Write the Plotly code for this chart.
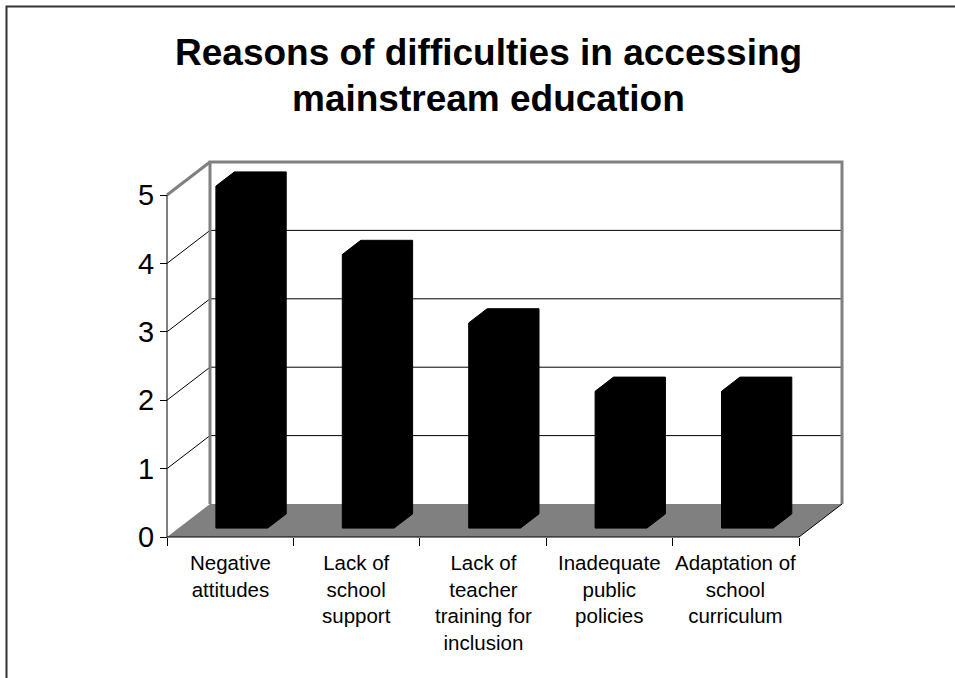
import plotly.graph_objects as go

# ---- data -------------------------------------------------------------
categories = [
    "Negative<br>attitudes",
    "Lack of<br>school<br>support",
    "Lack of<br>teacher<br>training for<br>inclusion",
    "Inadequate<br>public<br>policies",
    "Adaptation of<br>school<br>curriculum",
]
values = [5, 4, 3, 2, 2]
y_ticks = [0, 1, 2, 3, 4, 5]
title_lines = ["Reasons of difficulties in accessing", "mainstream education"]

# ---- layout constants (pixels) ----------------------------------------
W, H = 955, 678
X0_PX, XU = 167, 126.4      # pixel of x=0 and pixels per category
Y0_PX, YU = 537, 68.4       # pixel of y=0 and pixels per unit value
DEPTH_X_PX, DEPTH_Y_PX = 43, 33   # oblique offset of the back wall
PL, PR, PT, PB = 150, 860, 150, 552   # plot area box in pixels

DX = DEPTH_X_PX / XU
DY = DEPTH_Y_PX / YU
n = len(categories)
ymax = max(y_ticks)

BAR_HALF = 0.205           # half width of a bar in category units
D_FRONT, D_BACK = 0.27, 0.70   # bar depth as fraction of the box depth

FONT = "Arial, Liberation Sans, sans-serif"
GRAY = "#808080"


def paper_x(px):
    return (px - PL) / (PR - PL)


def paper_y(py):
    return (PB - py) / (PB - PT)


fig = go.Figure()
shapes = []

# back wall grid lines and side wall grid lines
for v in y_ticks[1:-1]:
    shapes.append(dict(type="line", xref="x", yref="y", x0=DX, y0=v + DY,
                       x1=n + DX, y1=v + DY, line=dict(color="black", width=1),
                       layer="below"))
    shapes.append(dict(type="line", xref="x", yref="y", x0=0, y0=v,
                       x1=DX, y1=v + DY, line=dict(color="black", width=1),
                       layer="below"))

# wall outlines
shapes.append(dict(type="path", xref="x", yref="y",
                   path=f"M {DX},{DY} L {DX},{ymax + DY} L {n + DX},{ymax + DY} L {n + DX},{DY}",
                   line=dict(color=GRAY, width=3), layer="below"))
shapes.append(dict(type="line", xref="x", yref="y", x0=0, y0=ymax,
                   x1=DX, y1=ymax + DY, line=dict(color=GRAY, width=3),
                   layer="below"))

# floor
shapes.append(dict(type="path", xref="x", yref="y",
                   path=f"M 0,0 L {n},0 L {n + DX},{DY} L {DX},{DY} Z",
                   fillcolor=GRAY, line=dict(width=0), layer="below"))
shapes.append(dict(type="line", xref="x", yref="y", x0=n, y0=0,
                   x1=n + DX, y1=DY, line=dict(color="black", width=1),
                   layer="below"))

# front axes lines
shapes.append(dict(type="line", xref="x", yref="y", x0=0, y0=0, x1=n, y1=0,
                   line=dict(color="black", width=1)))
shapes.append(dict(type="line", xref="x", yref="y", x0=0, y0=0, x1=0, y1=ymax,
                   line=dict(color="black", width=1)))

# outer frame of the chart
shapes.append(dict(type="rect", xref="paper", yref="paper",
                   x0=paper_x(6.5), y0=paper_y(6.5), x1=paper_x(990), y1=paper_y(720),
                   line=dict(color="#333333", width=2), layer="below"))

# 3D-looking bars
fx, fy = D_FRONT * DX, D_FRONT * DY
bx, by = D_BACK * DX, D_BACK * DY
for i, v in enumerate(values):
    c = i + 0.5
    xs = [c - BAR_HALF + fx, c - BAR_HALF + fx, c - BAR_HALF + bx,
          c + BAR_HALF + bx, c + BAR_HALF + bx, c + BAR_HALF + fx, c - BAR_HALF + fx]
    ys = [fy, v + fy, v + by, v + by, by, fy, fy]
    fig.add_trace(go.Scatter(x=xs, y=ys, mode="lines", fill="toself",
                             fillcolor="black", line=dict(color="black", width=1),
                             hoverinfo="skip", showlegend=False))

annotations = []
for i, lab in enumerate(categories):
    annotations.append(dict(x=i + 0.5, y=0, xref="x", yref="y", text=lab,
                            showarrow=False, yanchor="top", xanchor="center",
                            yshift=-12, align="center",
                            font=dict(family=FONT, size=20.5, color="black")))

title_y = [52, 99]
for line, py in zip(title_lines, title_y):
    annotations.append(dict(x=paper_x(488), y=paper_y(py), xref="paper", yref="paper",
                            text=f"<b>{line}</b>", showarrow=False,
                            xanchor="center", yanchor="middle",
                            font=dict(family=FONT, size=37, color="black")))

fig.update_layout(
    width=W, height=H, autosize=False,
    margin=dict(l=PL, r=W - PR, t=PT, b=H - PB, pad=0),
    paper_bgcolor="white", plot_bgcolor="rgba(0,0,0,0)",
    shapes=shapes, annotations=annotations, showlegend=False,
    xaxis=dict(range=[(PL - X0_PX) / XU, (PR - X0_PX) / XU],
               tickvals=list(range(n + 1)), ticks="outside", ticklen=8,
               tickcolor="black", tickwidth=1, showticklabels=False,
               showgrid=False, zeroline=False, showline=False,
               anchor="free", position=(PB - Y0_PX) / (PB - PT), fixedrange=True),
    yaxis=dict(range=[(Y0_PX - PB) / YU, (Y0_PX - PT) / YU],
               tickvals=y_ticks, ticks="outside", ticklen=7,
               tickcolor="black", tickwidth=1,
               tickfont=dict(family=FONT, size=29, color="black"),
               showgrid=False, zeroline=False, showline=False,
               anchor="free", position=(X0_PX - PL) / (PR - PL), fixedrange=True),
)

fig.write_html("out.html")
